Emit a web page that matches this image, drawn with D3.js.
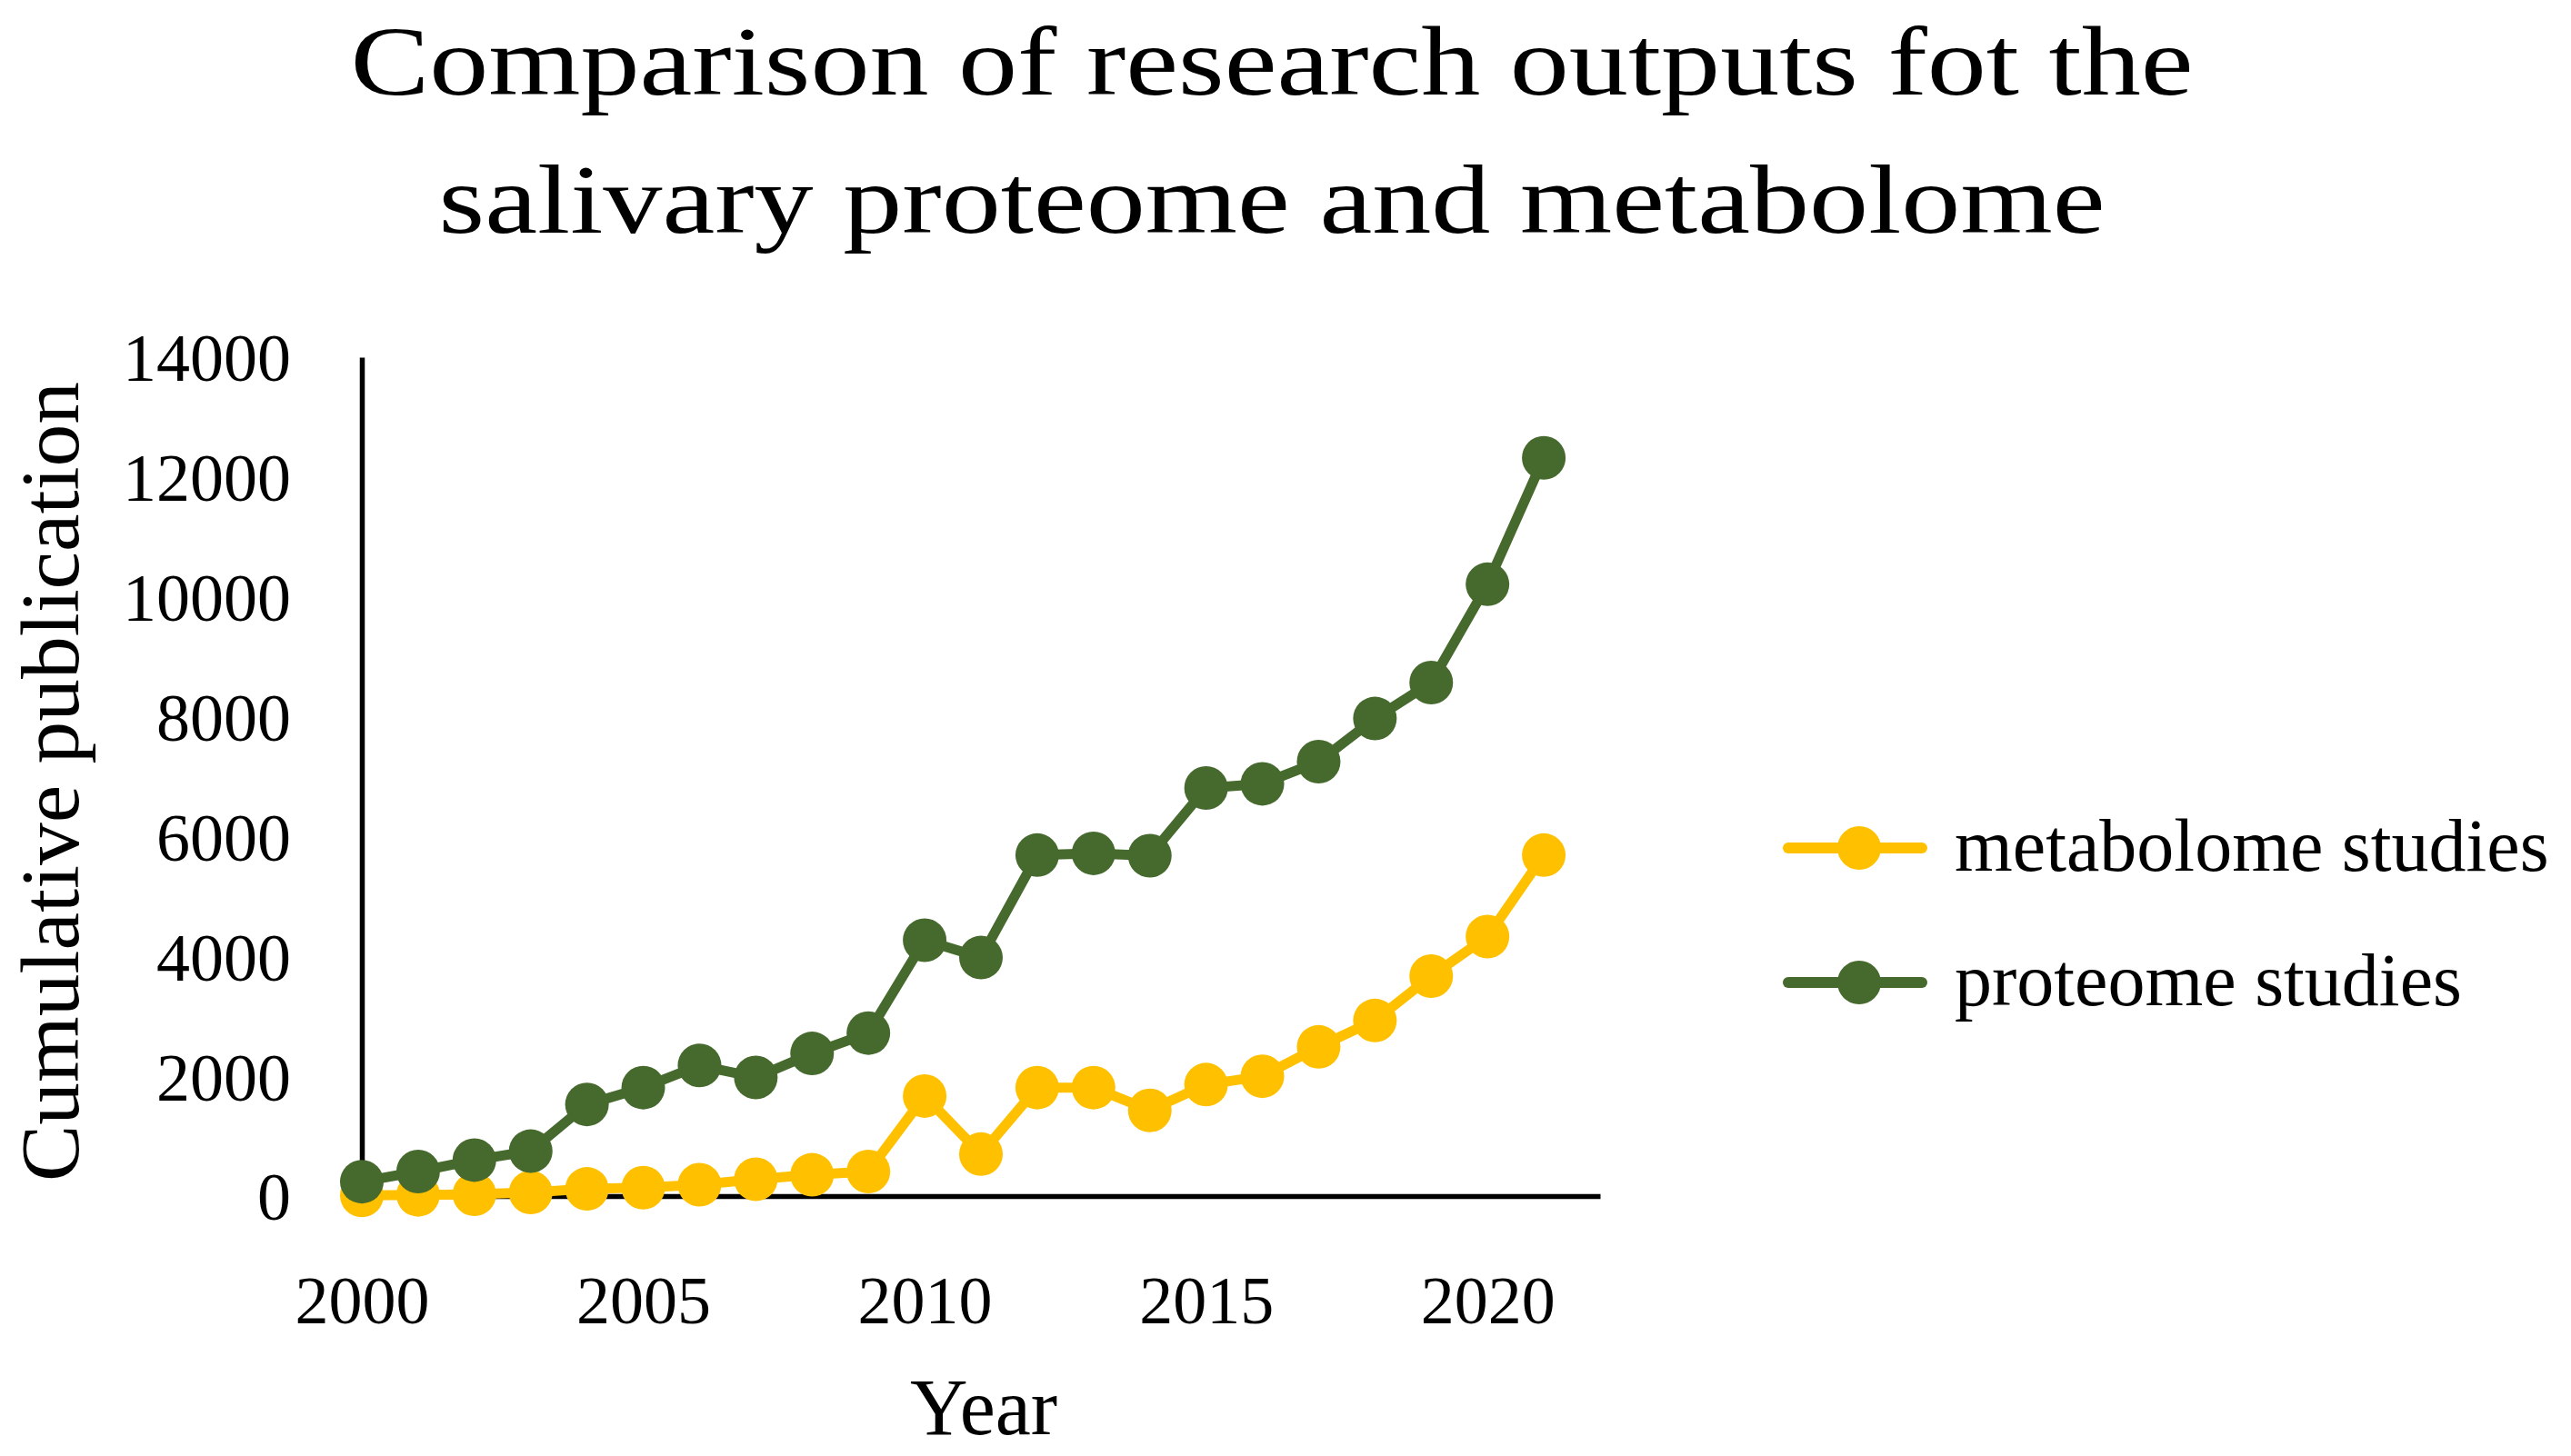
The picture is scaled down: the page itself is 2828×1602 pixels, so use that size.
<!DOCTYPE html>
<html>
<head>
<meta charset="utf-8">
<script src="https://cdn.jsdelivr.net/npm/d3@7"></script>
<style>
  body { margin: 0; background: #fff; }
  text { font-family: "Palatino Linotype", "Book Antiqua", Palatino, "Liberation Serif", serif; fill: #000; }
</style>
</head>
<body>
<div id="chart"></div>
<script>
// data
var years = [2000, 2001, 2002, 2003, 2004, 2005, 2006, 2007, 2008, 2009, 2010,
             2011, 2012, 2013, 2014, 2015, 2016, 2017, 2018, 2019, 2020, 2021];
var metabolome = [10, 20, 30, 60, 120, 140, 190, 280, 355, 410, 1670,
                  700, 1810, 1810, 1430, 1860, 2000, 2490, 2930, 3670, 4330, 5690];
var proteome = [240, 410, 600, 750, 1530, 1810, 2180, 1980, 2380, 2720, 4270,
                3980, 5690, 5720, 5680, 6810, 6880, 7250, 7970, 8570, 10210, 12320];
var seriesNames = ["metabolome studies", "proteome studies"];
var seriesColors = ["#FFC000", "#466A2D"];
var xTicks = [2000, 2005, 2010, 2015, 2020];
var yTicks = [0, 2000, 4000, 6000, 8000, 10000, 12000, 14000];
var titleLines = ["Comparison of research outputs fot the", "salivary proteome and metabolome"];

var width = 2828, height = 1602;
var svg = d3.select("#chart").append("svg").attr("width", width).attr("height", height);

var x = d3.scaleLinear().domain([2000, 2022]).range([398, 1760]);
var y = d3.scaleLinear().domain([0, 14000]).range([1316, 393]);

// title (fallback serif is narrower than Palatino, so stretch to the original width)
var titleWidths = [2027, 1833];
svg.append("g").selectAll("text").data(titleLines).enter().append("text")
    .attr("x", 1399).attr("y", function(d, i) { return 104 + i * 152; })
    .attr("text-anchor", "middle").attr("font-size", 108)
    .attr("textLength", function(d, i) { return titleWidths[i]; })
    .attr("lengthAdjust", "spacingAndGlyphs")
    .text(function(d) { return d; });

// axes
var yAxis = svg.append("g").attr("transform", "translate(" + x(2000) + ",0)")
    .call(d3.axisLeft(y).tickValues(yTicks).tickSize(0).tickFormat(d3.format("d")));
yAxis.select(".domain").attr("stroke", "#000").attr("stroke-width", 5.5);
yAxis.selectAll("text").attr("x", -78).attr("dy", "0.35em").attr("font-size", 74);

var xAxis = svg.append("g").attr("transform", "translate(0," + y(0) + ")")
    .call(d3.axisBottom(x).tickValues(xTicks).tickSize(0).tickFormat(d3.format("d")));
xAxis.select(".domain").attr("stroke", "#000").attr("stroke-width", 5.5);
xAxis.selectAll("text").attr("y", 114).attr("dy", "0.35em").attr("font-size", 74);
svg.selectAll(".tick text").attr("fill", "#000");
svg.selectAll("g").attr("font-family", null);

// axis titles
svg.append("text").attr("x", 1082).attr("y", 1578).attr("text-anchor", "middle")
    .attr("font-size", 88).text("Year");
svg.append("text").attr("transform", "translate(86,860) rotate(-90)")
    .attr("text-anchor", "middle").attr("font-size", 90)
    .attr("textLength", 880).attr("lengthAdjust", "spacingAndGlyphs")
    .text("Cumulative publication");

// lines + markers
var series = [metabolome, proteome];
var line = d3.line().x(function(d, i) { return x(years[i]); }).y(function(d) { return y(d); });

series.forEach(function(vals, s) {
    var g = svg.append("g");
    g.append("path").datum(vals).attr("d", line)
        .attr("fill", "none").attr("stroke", seriesColors[s])
        .attr("stroke-width", 11).attr("stroke-linejoin", "round");
    g.selectAll("circle").data(vals).enter().append("circle")
        .attr("cx", function(d, i) { return x(years[i]); })
        .attr("cy", function(d) { return y(d); })
        .attr("r", 24).attr("fill", seriesColors[s]);
});

// legend
var legend = svg.append("g").selectAll("g").data(seriesNames).enter().append("g")
    .attr("transform", function(d, i) { return "translate(1967," + (933 + i * 148) + ")"; });
legend.append("line").attr("x1", 0).attr("x2", 147).attr("y1", 0).attr("y2", 0)
    .attr("stroke", function(d, i) { return seriesColors[i]; })
    .attr("stroke-width", 12).attr("stroke-linecap", "round");
legend.append("circle").attr("cx", 78).attr("cy", 0).attr("r", 24)
    .attr("fill", function(d, i) { return seriesColors[i]; });
legend.append("text").attr("x", 183).attr("y", 0).attr("dy", "0.3em")
    .attr("font-size", 82).text(function(d) { return d; });
</script>
</body>
</html>
